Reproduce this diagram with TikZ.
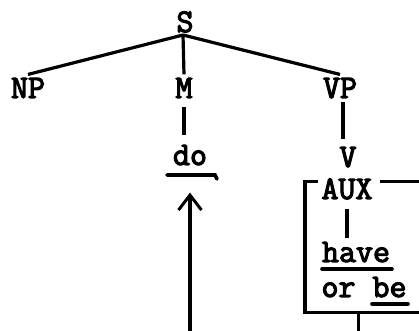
\documentclass[tikz,border=0pt]{standalone}
\usepackage{fontspec}
\newfontfamily\typer{Latin Modern Mono}[FakeBold=3.5]
\usetikzlibrary{arrows.meta,calc}
\tikzset{
  cat/.style={font=\typer\fontsize{16.5}{19}\selectfont,
              inner sep=1.5pt,anchor=base},
  branch/.style={line width=1.6pt},
  uline/.style={line width=1.8pt,line cap=round},
  boxline/.style={line width=1.5pt},
  moveup/.style={-{Straight Barb[length=7.5pt,width=11.5pt]},line width=1.5pt}
}
\begin{document}
\begin{tikzpicture}[x=0.5pt,y=0.5pt]
    \path[use as bounding box] (0,0) rectangle (419,331);
    \clip (0,0) rectangle (419,331);
    % tree
    \node[cat] (S) at (185,299) {S};
    \node[cat] (NP) at (28,233) {NP};
    \node[cat] (M) at (184,233) {M};
    \node[cat] (VP) at (340,233) {VP};
    \node[cat] (do) at (190,166) {do};
    \node[cat] (V) at (348,164) {V};
    \node[cat] (AUX) at (347,132) {AUX};
    \node[cat] (have) at (356,69) {have};
    \node[cat] (orbe) at (364,34) {or be};
    \coordinate (Sfoot) at (183,296);
    \draw[branch] (Sfoot) -- (NP.north);
    \draw[branch] (Sfoot) -- (M.north);
    \draw[branch] (Sfoot) -- (VP.north);
    \draw[branch,shorten <=3pt,shorten >=3pt] (M.south) -- (M.south |- do.north);
    \draw[branch,shorten >=2pt] ([xshift=1.5pt]VP.south) -- ([xshift=1.5pt]VP.south |- V.north);
    \draw[branch,shorten <=3pt] (AUX.south) -- (AUX.south |- have.north);
    % underlines
    \draw[uline] ($(do.base)+(-23,-10)$) -- ++(48,0) -- ++(2,-4);
    \draw[uline] ($(have.base)+(-34,-7)$) -- ++(70,0);
    \draw[uline] ($(orbe.base)+(8,-7)$) -- ++(36,0);
    % box round AUX
    \coordinate (boxtl) at (305,149);
    \coordinate (boxbl) at (305,18);
    \draw[boxline] (boxtl -| AUX.west) -- (boxtl) -- (boxbl) -- (430,18);
    \draw[boxline] ([xshift=2pt]AUX.east |- boxtl) -- (430,149);
    \draw[boxline] (358,18) -- (358,-5);
    % movement
    \coordinate (foot) at (190,-5);
    \draw[moveup] (foot) -- ([yshift=-12pt]do.south);
\end{tikzpicture}
\end{document}
